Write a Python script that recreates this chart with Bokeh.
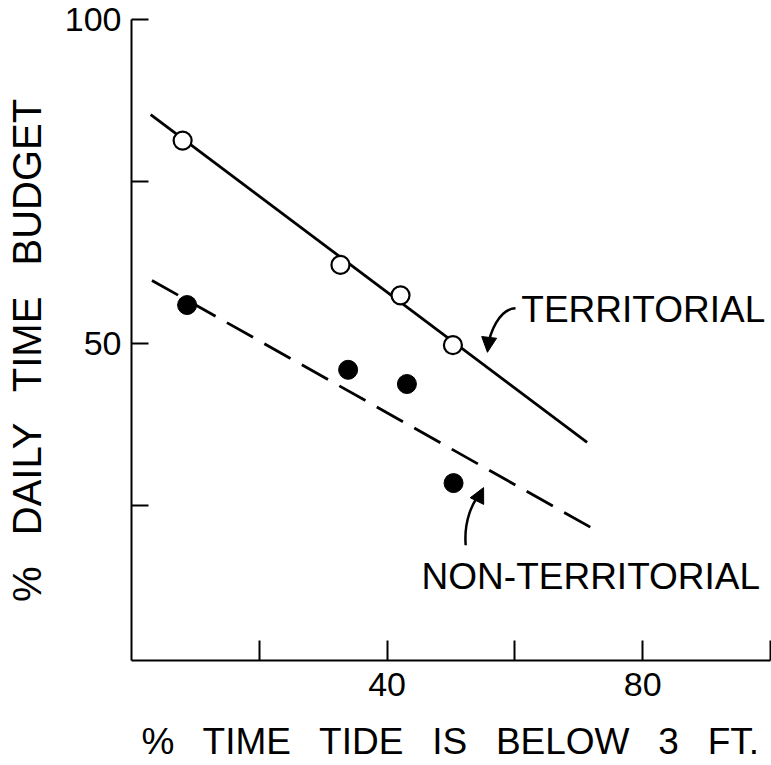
from bokeh.plotting import figure
from bokeh.models import FixedTicker, Range1d, Arrow, NormalHead
from bokeh.core.properties import value
from bokeh.embed import file_html
from bokeh.resources import INLINE

FONT = "Liberation Sans"
GAP = "\u2002 "        # wide word spacing used in the lettering

# Territorial birds (open circles)
terr_tide = [8.0, 32.7, 42.1, 50.3]
terr_budget = [81.3, 62.1, 57.4, 49.7]

# Non-territorial birds (filled circles)
non_tide = [8.7, 33.9, 43.1, 50.4]
non_budget = [55.9, 45.9, 43.7, 28.4]

# Fitted regression lines (end points)
terr_fit_x = [3.0, 71.3]
terr_fit_y = [85.3, 34.7]
non_fit_x = [3.2, 71.8]
non_fit_y = [59.7, 21.6]

x_ticks = [20, 40, 60, 80, 100]
x_tick_labels = {20: "", 40: "40", 60: "", 80: "80", 100: ""}
y_ticks = [25, 50, 75, 100]
y_tick_labels = {25: "", 50: "50", 75: "", 100: "100"}

# Label anchors and pointer curves (data units)
terr_label = (61.0, 55.2, "TERRITORIAL")
non_label = (45.4, 13.9, "NON-TERRITORIAL")
terr_curve = dict(x0=60.1, y0=55.4, x1=55.8, y1=49.3, cx0=57.5, cy0=55.3, cx1=56.0, cy1=51.5)
terr_head = (55.9, 50.3, 55.7, 48.6)
non_curve = dict(x0=52.3, y0=18.8, x1=54.9, y1=27.2, cx0=52.0, cy0=22.5, cx1=53.3, cy1=25.5)
non_head = (54.4, 26.3, 55.1, 27.7)

p = figure(width=771, height=765, output_backend="svg", toolbar_location=None,
           x_range=Range1d(0, 100), y_range=Range1d(1, 100),
           min_border_left=131, min_border_right=1, min_border_top=19, min_border_bottom=105)
p.outline_line_color = None
p.xgrid.visible = False
p.ygrid.visible = False
p.background_fill_color = "white"
p.border_fill_color = "white"

for ax in (p.xaxis[0], p.yaxis[0]):
    ax.axis_line_width = 2
    ax.axis_line_color = "black"
    ax.major_tick_line_width = 2
    ax.major_tick_line_color = "black"
    ax.major_tick_out = 0
    ax.minor_tick_line_color = None
    ax.major_label_text_font = FONT
    ax.major_label_text_font_size = "34px"
    ax.major_label_text_color = "black"
    ax.axis_label_text_font = FONT
    ax.axis_label_text_font_style = "normal"
    ax.axis_label_text_color = "black"

p.xaxis.ticker = FixedTicker(ticks=x_ticks)
p.xaxis.major_label_overrides = x_tick_labels
p.xaxis.major_tick_in = 20
p.xaxis.major_label_standoff = 12
p.xaxis.axis_label = GAP.join(["%", "TIME", "TIDE", "IS", "BELOW", "3", "FT."])
p.xaxis.axis_label_text_font_size = "37px"
p.xaxis.axis_label_standoff = 22

p.yaxis.ticker = FixedTicker(ticks=y_ticks)
p.yaxis.major_label_overrides = y_tick_labels
p.yaxis.major_tick_in = 17
p.yaxis.major_label_standoff = 10
p.yaxis.axis_label = GAP.join(["%", "DAILY", "TIME", "BUDGET"]) + "\u2002"
p.yaxis.axis_label_text_font_size = "40px"
p.yaxis.axis_label_standoff = 13

# Regression lines
p.line(terr_fit_x, terr_fit_y, line_color="black", line_width=2.8)
p.line(non_fit_x, non_fit_y, line_color="black", line_width=2.8, line_dash="30 13")

# Observations
p.scatter(terr_tide, terr_budget, marker="circle", size=18,
          fill_color="white", line_color="black", line_width=2.2)
p.scatter(non_tide, non_budget, marker="circle", size=19,
          fill_color="black", line_color="black")

# Series labels with curved pointers
for (lx, ly, txt) in (terr_label, non_label):
    p.text(x=[lx], y=[ly], text=[txt], text_font=value(FONT), text_font_size="37px",
           text_baseline="middle", text_align="left", text_color="black")

for c, h in ((terr_curve, terr_head), (non_curve, non_head)):
    p.bezier(line_color="black", line_width=2.5, **c)
    p.add_layout(Arrow(end=NormalHead(size=15, fill_color="black", line_color="black"),
                       x_start=h[0], y_start=h[1], x_end=h[2], y_end=h[3],
                       line_width=2.5, line_color="black"))

open("out.html", "w").write(file_html(p, INLINE))
